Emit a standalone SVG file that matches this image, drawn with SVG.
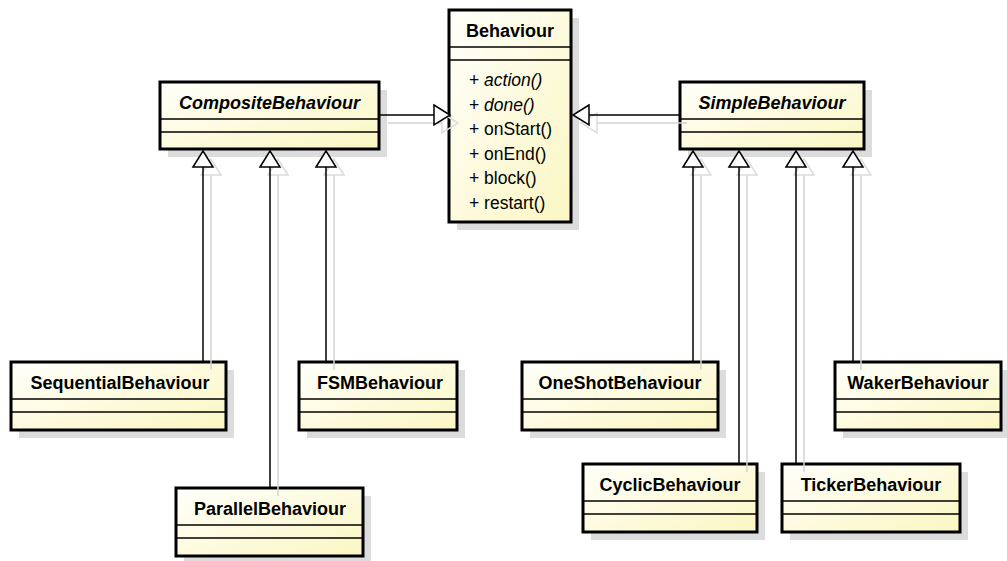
<svg xmlns="http://www.w3.org/2000/svg" width="1007" height="561" viewBox="0 0 1007 561">
  <style>
    .box { fill: url(#classFill); stroke: #000; stroke-width: 3; }
    .shadow { fill: #dcdcdc; }
    .sep { stroke: #000; stroke-width: 1.4; fill: none; }
    .name { font-family: "Liberation Sans", Arial, sans-serif; font-size: 18px; font-weight: bold; fill: #000; text-anchor: middle; }
    .abstract { font-style: italic; }
    .op { font-family: "Liberation Sans", Arial, sans-serif; font-size: 17.5px; fill: #000; }
    .op-abstract { font-style: italic; }
    .edge { stroke: #000; stroke-width: 1.5; fill: none; }
    .edge-shadow { stroke: #d4d4d4; stroke-width: 1.5; fill: none; }
    .head { fill: #fff; stroke: #000; stroke-width: 1.5; }
    .head-shadow { fill: none; stroke: #dcdcdc; stroke-width: 1.5; }
  </style>
  <defs>
    <linearGradient id="classFill" x1="0" y1="0" x2="1" y2="1">
      <stop offset="0" stop-color="#fffffb"/>
      <stop offset="1" stop-color="#fbf6c2"/>
    </linearGradient>
  </defs>

  <rect width="1007" height="561" fill="#fff"/>

  <!-- Behaviour (root) -->
  <g id="behaviour">
    <rect class="shadow" x="457" y="18" width="122" height="212"/>
    <rect class="box" x="449" y="10" width="122" height="212"/>
    <line class="sep" x1="449" y1="47" x2="571" y2="47"/>
    <line class="sep" x1="449" y1="60" x2="571" y2="60"/>
    <text class="name" x="510" y="37">Behaviour</text>
    <text class="op" x="469" y="86">+ <tspan class="op-abstract">action()</tspan></text>
    <text class="op" x="469" y="110.6">+ <tspan class="op-abstract">done()</tspan></text>
    <text class="op" x="469" y="135.2">+ onStart()</text>
    <text class="op" x="469" y="159.8">+ onEnd()</text>
    <text class="op" x="469" y="184.4">+ block()</text>
    <text class="op" x="469" y="209">+ restart()</text>
  </g>

  <!-- CompositeBehaviour -->
  <g id="composite-behaviour">
    <rect class="shadow" x="168" y="90" width="219" height="67"/>
    <rect class="box" x="160" y="82" width="219" height="67"/>
    <line class="sep" x1="160" y1="119" x2="379" y2="119"/>
    <line class="sep" x1="160" y1="132" x2="379" y2="132"/>
    <text class="name abstract" x="269.5" y="109">CompositeBehaviour</text>
  </g>

  <!-- SimpleBehaviour -->
  <g id="simple-behaviour">
    <rect class="shadow" x="688" y="90" width="184" height="67"/>
    <rect class="box" x="680" y="82" width="184" height="67"/>
    <line class="sep" x1="680" y1="119" x2="864" y2="119"/>
    <line class="sep" x1="680" y1="132" x2="864" y2="132"/>
    <text class="name abstract" x="772" y="109">SimpleBehaviour</text>
  </g>

  <!-- SequentialBehaviour -->
  <g id="sequential-behaviour">
    <rect class="shadow" x="19" y="370" width="215" height="68"/>
    <rect class="box" x="11" y="362" width="215" height="68"/>
    <line class="sep" x1="11" y1="399" x2="226" y2="399"/>
    <line class="sep" x1="11" y1="412" x2="226" y2="412"/>
    <text class="name" x="120" y="389">SequentialBehaviour</text>
  </g>

  <!-- FSMBehaviour -->
  <g id="fsm-behaviour">
    <rect class="shadow" x="307" y="370" width="158" height="68"/>
    <rect class="box" x="299" y="362" width="158" height="68"/>
    <line class="sep" x1="299" y1="399" x2="457" y2="399"/>
    <line class="sep" x1="299" y1="412" x2="457" y2="412"/>
    <text class="name" x="380" y="389">FSMBehaviour</text>
  </g>

  <!-- ParallelBehaviour -->
  <g id="parallel-behaviour">
    <rect class="shadow" x="184" y="496" width="187" height="68"/>
    <rect class="box" x="176" y="488" width="187" height="68"/>
    <line class="sep" x1="176" y1="525" x2="363" y2="525"/>
    <line class="sep" x1="176" y1="538" x2="363" y2="538"/>
    <text class="name" x="270" y="515">ParallelBehaviour</text>
  </g>

  <!-- OneShotBehaviour -->
  <g id="oneshot-behaviour">
    <rect class="shadow" x="530" y="370" width="196" height="68"/>
    <rect class="box" x="522" y="362" width="196" height="68"/>
    <line class="sep" x1="522" y1="399" x2="718" y2="399"/>
    <line class="sep" x1="522" y1="412" x2="718" y2="412"/>
    <text class="name" x="620" y="389">OneShotBehaviour</text>
  </g>

  <!-- CyclicBehaviour -->
  <g id="cyclic-behaviour">
    <rect class="shadow" x="591" y="472" width="174" height="68"/>
    <rect class="box" x="583" y="464" width="174" height="68"/>
    <line class="sep" x1="583" y1="501" x2="757" y2="501"/>
    <line class="sep" x1="583" y1="514" x2="757" y2="514"/>
    <text class="name" x="670" y="491">CyclicBehaviour</text>
  </g>

  <!-- TickerBehaviour -->
  <g id="ticker-behaviour">
    <rect class="shadow" x="790" y="472" width="178" height="68"/>
    <rect class="box" x="782" y="464" width="178" height="68"/>
    <line class="sep" x1="782" y1="501" x2="960" y2="501"/>
    <line class="sep" x1="782" y1="514" x2="960" y2="514"/>
    <text class="name" x="871" y="491">TickerBehaviour</text>
  </g>

  <!-- WakerBehaviour -->
  <g id="waker-behaviour">
    <rect class="shadow" x="843" y="370" width="166" height="68"/>
    <rect class="box" x="835" y="362" width="166" height="68"/>
    <line class="sep" x1="835" y1="399" x2="1001" y2="399"/>
    <line class="sep" x1="835" y1="412" x2="1001" y2="412"/>
    <text class="name" x="918" y="389">WakerBehaviour</text>
  </g>

  <!-- Generalization connectors (hollow triangle at the parent end) -->
  <g id="connectors">
    <!-- soft drop shadows of the connectors -->
    <g transform="translate(8,8)">
      <path class="edge-shadow" d="M380,115 H434 M679,115 H589"/>
      <path class="head-shadow" d="M434,105 L450,115 L434,125 Z M589,105 L573,115 L589,125 Z"/>
      <path class="edge-shadow" d="M203,167 V362 M270,167 V488 M326,167 V362 M693,167 V362 M739,167 V464 M796,167 V464 M853,167 V362"/>
      <path class="head-shadow" d="M193,167 L203,151 L213,167 Z M260,167 L270,151 L280,167 Z M316,167 L326,151 L336,167 Z M683,167 L693,151 L703,167 Z M729,167 L739,151 L749,167 Z M786,167 L796,151 L806,167 Z M843,167 L853,151 L863,167 Z"/>
    </g>

    <!-- CompositeBehaviour -> Behaviour -->
    <line class="edge" x1="380" y1="115" x2="434" y2="115"/>
    <polygon class="head" points="434,105 450,115 434,125"/>

    <!-- SimpleBehaviour -> Behaviour -->
    <line class="edge" x1="679" y1="115" x2="589" y2="115"/>
    <polygon class="head" points="589,105 573,115 589,125"/>

    <!-- children of CompositeBehaviour -->
    <line class="edge" x1="203" y1="167" x2="203" y2="362"/>
    <polygon class="head" points="193,167 203,151 213,167"/>
    <line class="edge" x1="270" y1="167" x2="270" y2="488"/>
    <polygon class="head" points="260,167 270,151 280,167"/>
    <line class="edge" x1="326" y1="167" x2="326" y2="362"/>
    <polygon class="head" points="316,167 326,151 336,167"/>

    <!-- children of SimpleBehaviour -->
    <line class="edge" x1="693" y1="167" x2="693" y2="362"/>
    <polygon class="head" points="683,167 693,151 703,167"/>
    <line class="edge" x1="739" y1="167" x2="739" y2="464"/>
    <polygon class="head" points="729,167 739,151 749,167"/>
    <line class="edge" x1="796" y1="167" x2="796" y2="464"/>
    <polygon class="head" points="786,167 796,151 806,167"/>
    <line class="edge" x1="853" y1="167" x2="853" y2="362"/>
    <polygon class="head" points="843,167 853,151 863,167"/>
  </g>
</svg>
